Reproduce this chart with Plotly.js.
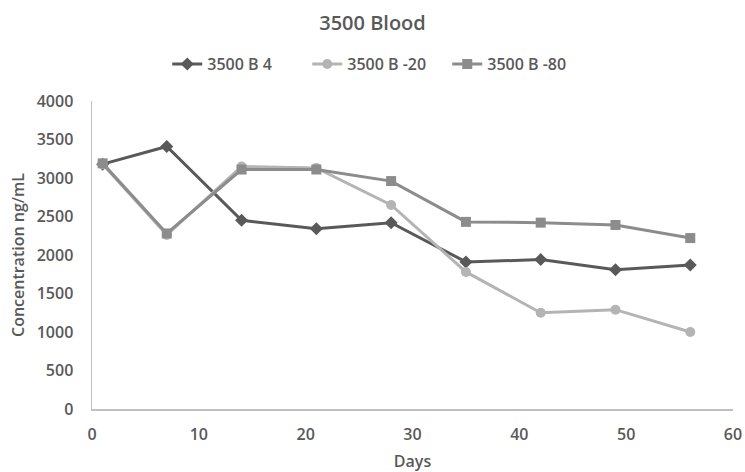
<!DOCTYPE html>
<html>
<head>
<meta charset="utf-8">
<script src="https://cdn.plot.ly/plotly-3.0.1.min.js"></script>
<style>html,body{margin:0;padding:0;background:#fff;}#chart{width:745px;height:472px;}</style>
</head>
<body>
<div id="chart"></div>
<script>
var days = [1, 7, 14, 21, 28, 35, 42, 49, 56];
var seriesNames = ["3500 B 4", "3500 B -20", "3500 B -80"];
var b4 = [3180, 3410, 2450, 2340, 2420, 1910, 1940, 1810, 1870];
var bm20 = [3180, 2260, 3150, 3130, 2650, 1780, 1250, 1290, 1000];
var bm80 = [3190, 2280, 3110, 3110, 2960, 2430, 2420, 2390, 2220];
var xTicks = [0, 10, 20, 30, 40, 50, 60];
var yTicks = [0, 500, 1000, 1500, 2000, 2500, 3000, 3500, 4000];

var font = "Open Sans, Liberation Sans, sans-serif";
var txt = "#595959";
var fs = 16;
var traces = [
  {x: days, y: b4, name: seriesNames[0], mode: "lines+markers",
   line: {color: "#595959", width: 3}, marker: {symbol: "diamond", size: 10, color: "#595959"}},
  {x: days, y: bm20, name: seriesNames[1], mode: "lines+markers",
   line: {color: "#b4b4b4", width: 3}, marker: {symbol: "circle", size: 10, color: "#b4b4b4"}},
  {x: days, y: bm80, name: seriesNames[2], mode: "lines+markers",
   line: {color: "#8c8c8c", width: 3}, marker: {symbol: "square", size: 10, color: "#8c8c8c"}}
];
var layout = {
  width: 745, height: 472,
  margin: {l: 92, r: 12, t: 101, b: 63},
  paper_bgcolor: "#fff", plot_bgcolor: "#fff",
  font: {family: font, color: txt, size: fs},
  title: {text: "3500 Blood", x: 0.5, xanchor: "center", y: 0.952, yanchor: "middle",
          font: {family: font, size: 20, color: txt, weight: 600}},
  showlegend: true,
  legend: {orientation: "h", x: 0.445, xanchor: "center", y: 1.12, yanchor: "middle",
           font: {family: font, size: fs, color: txt, weight: 600}, itemwidth: 30, traceorder: "normal",
           entrywidth: 95, entrywidthmode: "pixels"},
  xaxis: {range: [0, 60], tickvals: xTicks, ticktext: xTicks.map(String), showgrid: false, zeroline: false,
          showline: true, linecolor: "#bfbfbf", linewidth: 1.5, ticks: "", ticklabelstandoff: 10,
          tickfont: {family: font, size: fs, color: txt, weight: 600},
          title: {text: "Days", font: {family: font, size: fs, color: txt, weight: 600}, standoff: 14}},
  yaxis: {range: [0, 4000], tickvals: yTicks, ticktext: yTicks.map(String), showgrid: false, zeroline: false,
          showline: true, linecolor: "#bfbfbf", linewidth: 1.5, ticks: "", ticklabelstandoff: 14,
          tickfont: {family: font, size: fs, color: txt, weight: 600},
          title: {text: "Concentration ng/mL", font: {family: font, size: fs, color: txt, weight: 600}, standoff: 8}}
};
Plotly.newPlot("chart", traces, layout, {displayModeBar: false, staticPlot: true});
</script>
</body>
</html>
